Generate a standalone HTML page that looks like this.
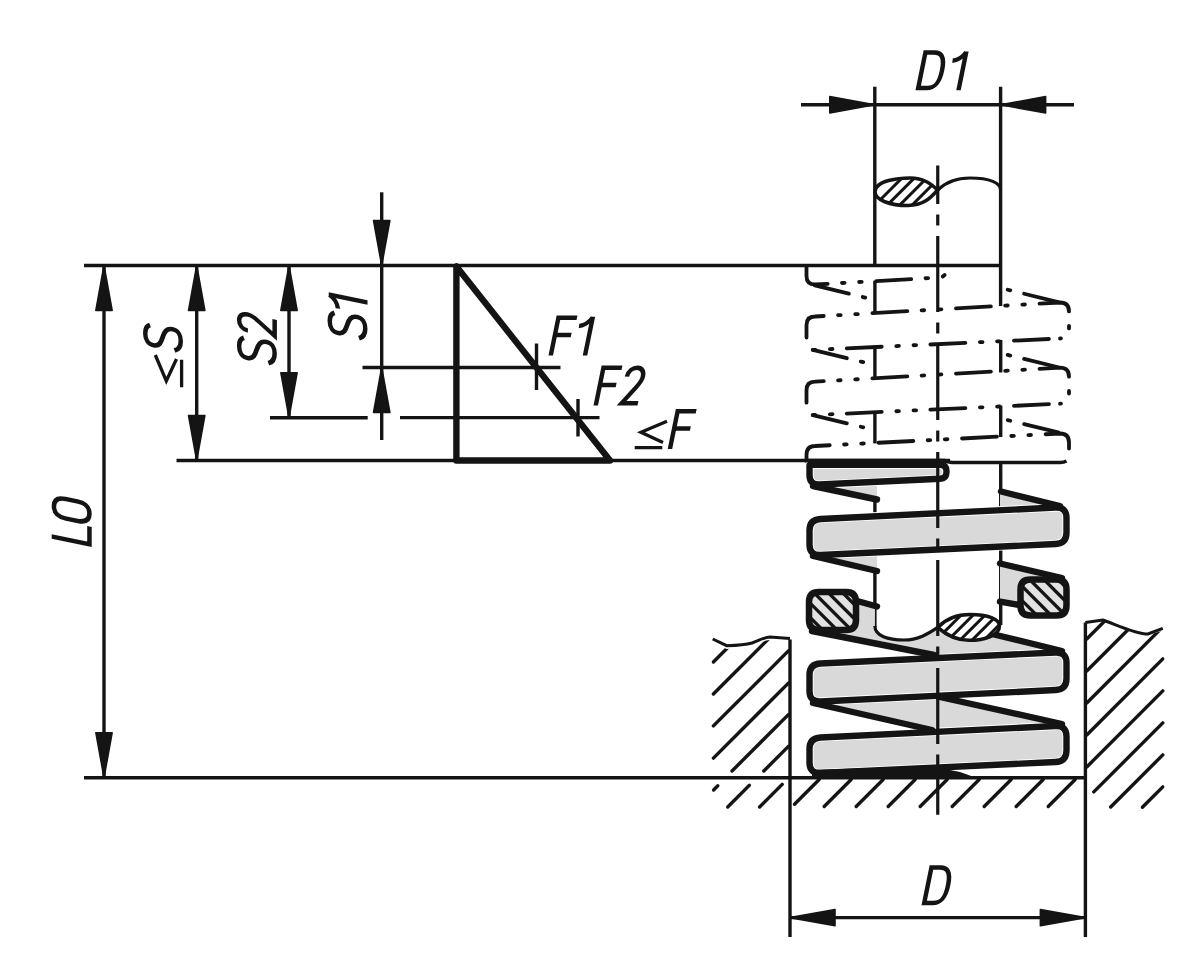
<!DOCTYPE html>
<html><head><meta charset="utf-8"><style>
html,body{margin:0;padding:0;background:#fff;}
svg{display:block;}
</style></head><body>
<svg width="1200" height="973" viewBox="0 0 1200 973">
<rect width="1200" height="973" fill="#ffffff"/>
<g stroke="#141414" fill="none" stroke-linecap="butt">
<line x1="84" y1="265.5" x2="1001.5" y2="265.5" stroke-width="3.4"/>
<line x1="176.5" y1="460.5" x2="950" y2="460.5" stroke-width="3.4"/>
<line x1="84" y1="777.7" x2="1085.5" y2="777.7" stroke-width="3.4"/>
<line x1="104" y1="266" x2="104" y2="777" stroke-width="3.4"/>
<path d="M104,265.5 L112.15,310.50 L95.85,310.50 Z" fill="#141414" stroke-width="1.6" stroke-linejoin="round"/>
<path d="M104,777.7 L95.85,732.70 L112.15,732.70 Z" fill="#141414" stroke-width="1.6" stroke-linejoin="round"/>
<line x1="196.7" y1="266" x2="196.7" y2="460" stroke-width="3.4"/>
<path d="M196.7,265.5 L204.85,310.50 L188.55,310.50 Z" fill="#141414" stroke-width="1.6" stroke-linejoin="round"/>
<path d="M196.7,460.5 L188.55,415.50 L204.85,415.50 Z" fill="#141414" stroke-width="1.6" stroke-linejoin="round"/>
<line x1="289" y1="266" x2="289" y2="417.7" stroke-width="3.4"/>
<path d="M289,265.5 L297.15,310.50 L280.85,310.50 Z" fill="#141414" stroke-width="1.6" stroke-linejoin="round"/>
<path d="M289,417.7 L280.85,372.70 L297.15,372.70 Z" fill="#141414" stroke-width="1.6" stroke-linejoin="round"/>
<line x1="270" y1="417.7" x2="367.7" y2="417.7" stroke-width="3.4"/>
<line x1="381.7" y1="192.3" x2="381.7" y2="440" stroke-width="3.4"/>
<path d="M381.7,265.5 L373.55,220.50 L389.85,220.50 Z" fill="#141414" stroke-width="1.6" stroke-linejoin="round"/>
<path d="M381.7,367.5 L389.85,412.50 L373.55,412.50 Z" fill="#141414" stroke-width="1.6" stroke-linejoin="round"/>
<line x1="362.5" y1="367.5" x2="560.5" y2="367.5" stroke-width="3.4"/>
<line x1="400" y1="417.6" x2="599.5" y2="417.6" stroke-width="3.4"/>
<line x1="536.5" y1="343.5" x2="536.5" y2="390" stroke-width="3.4"/>
<line x1="578" y1="399" x2="578" y2="436.5" stroke-width="3.4"/>
<path d="M456.4,266.5 L456.4,460.5 L610,460.5 Z" stroke-width="6.4" fill="none" stroke-linejoin="round"/>
<line x1="874.8" y1="86.7" x2="874.8" y2="265.5" stroke-width="3.4"/>
<line x1="1000.6" y1="86.7" x2="1000.6" y2="306" stroke-width="3.4"/>
<line x1="801" y1="104.8" x2="1074" y2="104.8" stroke-width="3.4"/>
<path d="M874.8,104.8 L829.80,112.95 L829.80,96.65 Z" fill="#141414" stroke-width="1.6" stroke-linejoin="round"/>
<path d="M1000.6,104.8 L1045.60,96.65 L1045.60,112.95 Z" fill="#141414" stroke-width="1.6" stroke-linejoin="round"/>
<line x1="790" y1="639.5" x2="790" y2="937" stroke-width="3.4"/>
<line x1="1085.4" y1="622.6" x2="1085.4" y2="937" stroke-width="3.4"/>
<line x1="790" y1="917.6" x2="1085.4" y2="917.6" stroke-width="3.4"/>
<path d="M790,917.6 L835.00,909.45 L835.00,925.75 Z" fill="#141414" stroke-width="1.6" stroke-linejoin="round"/>
<path d="M1085.4,917.6 L1040.40,925.75 L1040.40,909.45 Z" fill="#141414" stroke-width="1.6" stroke-linejoin="round"/>
<g transform="translate(915.5,90.3)" stroke-width="4.5" stroke-linecap="butt" stroke-linejoin="miter"><g transform="translate(0,0) skewX(-11.5)"><path d="M2.25,-2.25 V-37.75 H11 C19.5,-37.75 22.5,-32 22.5,-20 C22.5,-8 19.5,-2.25 11,-2.25 Z" fill="none"/></g><g transform="translate(29.5,0) skewX(-11.5)"><path d="M1.5,-29.6 C6,-30 10.5,-32.5 13.5,-38.25 M13.5,-38.75 V0" fill="none"/></g></g>
<g transform="translate(548.5,355.5)" stroke-width="4.5" stroke-linecap="butt" stroke-linejoin="miter"><g transform="translate(0,0) skewX(-11.5)"><path d="M20.8,-37.75 H2.25 V0 M2.25,-20.5 H18.5" fill="none"/></g><g transform="translate(23,0) skewX(-11.5)"><path d="M1.5,-29.6 C6,-30 10.5,-32.5 13.5,-38.25 M13.5,-38.75 V0" fill="none"/></g></g>
<g transform="translate(593.5,405.6)" stroke-width="4.5" stroke-linecap="butt" stroke-linejoin="miter"><g transform="translate(0,0) skewX(-11.5)"><path d="M20.8,-37.75 H2.25 V0 M2.25,-20.5 H18.5" fill="none"/></g><g transform="translate(23,0) skewX(-11.5)"><path d="M4.5,-29 C5,-35 8.5,-37.75 13,-37.75 C17.5,-37.75 20.5,-34.5 20.5,-29 C20.5,-25 18.5,-22 16,-18.5 L4.5,-2.25 H21" fill="none"/></g></g>
<g transform="translate(635,449)" stroke-width="4.5" stroke-linecap="butt" stroke-linejoin="miter"><path d="M32,-27.7 L6,-16.7 L28,-6.5 M-0.3,-1.4 H27.3" stroke-width="3.3" fill="none" stroke-linejoin="miter"/><g transform="translate(32.7,0) skewX(-11.5)"><path d="M20.8,-37.75 H2.25 V0 M2.25,-20.5 H18.5" fill="none"/></g></g>
<g transform="translate(921.5,905.3)" stroke-width="4.5" stroke-linecap="butt" stroke-linejoin="miter"><g transform="translate(0,0) skewX(-11.5)"><path d="M2.25,-2.25 V-37.75 H11 C19.5,-37.75 22.5,-32 22.5,-20 C22.5,-8 19.5,-2.25 11,-2.25 Z" fill="none"/></g></g>
<g transform="translate(276.9,367) rotate(-90)" stroke-width="4.5" stroke-linecap="butt" stroke-linejoin="miter"><g transform="translate(0,0) skewX(-11.5)"><path d="M22.5,-33 C21,-36.5 17.5,-37.75 13,-37.75 C7,-37.75 3,-35 3,-29.5 C3,-23.5 8,-21.8 13,-20.3 C18.5,-18.6 23,-16.5 23,-10.3 C23,-5 19,-2.25 13,-2.25 C7.5,-2.25 3.5,-4.8 2,-8.5" fill="none"/></g><g transform="translate(26,0) skewX(-11.5)"><path d="M4.5,-29 C5,-35 8.5,-37.75 13,-37.75 C17.5,-37.75 20.5,-34.5 20.5,-29 C20.5,-25 18.5,-22 16,-18.5 L4.5,-2.25 H21" fill="none"/></g></g>
<g transform="translate(367.5,342) rotate(-90)" stroke-width="4.5" stroke-linecap="butt" stroke-linejoin="miter"><g transform="translate(0,0) skewX(-11.5)"><path d="M22.5,-33 C21,-36.5 17.5,-37.75 13,-37.75 C7,-37.75 3,-35 3,-29.5 C3,-23.5 8,-21.8 13,-20.3 C18.5,-18.6 23,-16.5 23,-10.3 C23,-5 19,-2.25 13,-2.25 C7.5,-2.25 3.5,-4.8 2,-8.5" fill="none"/></g><g transform="translate(26,0) skewX(-11.5)"><path d="M1.5,-29.6 C6,-30 10.5,-32.5 13.5,-38.25 M13.5,-38.75 V0" fill="none"/></g></g>
<g transform="translate(183,387) rotate(-90)" stroke-width="4.5" stroke-linecap="butt" stroke-linejoin="miter"><path d="M32,-27.7 L6,-16.7 L28,-6.5 M-0.3,-1.4 H27.3" stroke-width="3.3" fill="none" stroke-linejoin="miter"/><g transform="translate(32.7,0) skewX(-11.5)"><path d="M22.5,-33 C21,-36.5 17.5,-37.75 13,-37.75 C7,-37.75 3,-35 3,-29.5 C3,-23.5 8,-21.8 13,-20.3 C18.5,-18.6 23,-16.5 23,-10.3 C23,-5 19,-2.25 13,-2.25 C7.5,-2.25 3.5,-4.8 2,-8.5" fill="none"/></g></g>
<g transform="translate(91.7,547) rotate(-90)" stroke-width="4.5" stroke-linecap="butt" stroke-linejoin="miter"><g transform="translate(0,0) skewX(-11.5)"><path d="M2.25,-40 V-2.25 H20" fill="none"/></g><g transform="translate(21,0) skewX(-11.5)"><path d="M12,-37.75 C5.5,-37.75 2.25,-34 2.25,-26 V-14 C2.25,-6 5.5,-2.25 12,-2.25 C18.5,-2.25 21.75,-6 21.75,-14 V-26 C21.75,-34 18.5,-37.75 12,-37.75 Z" fill="none"/></g></g>
<path d="M806.5,265.5 V276 Q806.5,284.5 815,284.5 L939,277.5 Q945,277 946,272" stroke-width="3.8" stroke-dasharray="35 14.3 2.6 14.6 2.6 14.6" stroke-dashoffset="-1.9" fill="none" stroke-linejoin="round" stroke-linecap="round"/>
<path d="M813,285 L877,300.5" stroke-width="3.8" stroke-dasharray="35 14.3 2.6 14.6 2.6 14.6" stroke-dashoffset="-1.9" fill="none" stroke-linejoin="round" stroke-linecap="round"/>
<path d="M806.5,339.4 V325.0 Q806.5,316.5 815,316.5 L1060,302.5 Q1069,302.5 1069,311.5 V328.5 Q1069,338.5 1060,338.5" stroke-width="3.8" stroke-dasharray="35 14.3 2.6 14.6 2.6 14.6" stroke-dashoffset="-1.9" fill="none" stroke-linejoin="round" stroke-linecap="round"/>
<path d="M1060,338.5 L811,350.0" stroke-width="3.8" stroke-dasharray="35 14.3 2.6 14.6 2.6 14.6" stroke-dashoffset="323.74" fill="none" stroke-linejoin="round" stroke-linecap="round"/>
<path d="M811,349.5 L877,365.5" stroke-width="3.8" stroke-dasharray="35 14.3 2.6 14.6 2.6 14.6" stroke-dashoffset="-1.9" fill="none" stroke-linejoin="round" stroke-linecap="round"/>
<path d="M1060,302.5 L1000.7,288.0" stroke-width="3.8" stroke-dasharray="35 14.3 2.6 14.6 2.6 14.6" stroke-dashoffset="-1.9" fill="none" stroke-linejoin="round" stroke-linecap="round"/>
<line x1="874.9" y1="280.6" x2="874.9" y2="313.0" stroke-width="3.4"/>
<path d="M806.5,404.59999999999997 V390.2 Q806.5,381.7 815,381.7 L1060,367.7 Q1069,367.7 1069,376.7 V393.7 Q1069,403.7 1060,403.7" stroke-width="3.8" stroke-dasharray="35 14.3 2.6 14.6 2.6 14.6" stroke-dashoffset="-1.9" fill="none" stroke-linejoin="round" stroke-linecap="round"/>
<path d="M1060,403.7 L811,415.2" stroke-width="3.8" stroke-dasharray="35 14.3 2.6 14.6 2.6 14.6" stroke-dashoffset="323.74" fill="none" stroke-linejoin="round" stroke-linecap="round"/>
<path d="M811,414.7 L877,430.7" stroke-width="3.8" stroke-dasharray="35 14.3 2.6 14.6 2.6 14.6" stroke-dashoffset="-1.9" fill="none" stroke-linejoin="round" stroke-linecap="round"/>
<path d="M1060,367.7 L1000.7,353.2" stroke-width="3.8" stroke-dasharray="35 14.3 2.6 14.6 2.6 14.6" stroke-dashoffset="-1.9" fill="none" stroke-linejoin="round" stroke-linecap="round"/>
<line x1="874.9" y1="345.8" x2="874.9" y2="378.2" stroke-width="3.4"/>
<path d="M1060,432.9 L1000.7,418.4" stroke-width="3.8" stroke-dasharray="35 14.3 2.6 14.6 2.6 14.6" stroke-dashoffset="-1.9" fill="none" stroke-linejoin="round" stroke-linecap="round"/>
<line x1="874.9" y1="411.0" x2="874.9" y2="443.4" stroke-width="3.4"/>
<path d="M806.5,463 V455 Q806.5,446 815,446 L1060,433.5 Q1069,433.5 1069,442.5 V452" stroke-width="3.8" stroke-dasharray="35 14.3 2.6 14.6 2.6 14.6" stroke-dashoffset="-1.9" fill="none" stroke-linejoin="round" stroke-linecap="round"/>
<line x1="1000.7" y1="340" x2="1000.7" y2="372.5" stroke-width="3.4"/>
<line x1="1000.7" y1="405.6" x2="1000.7" y2="437" stroke-width="3.4"/>
<line x1="874.9" y1="480" x2="874.9" y2="627" stroke-width="3.4"/>
<line x1="1000.7" y1="461" x2="1000.7" y2="625" stroke-width="3.4"/>
<path d="M812,486 L877,500 L877,482 Z" fill="#d9d9d9" stroke="none"/>
<path d="M1000,491.5 L1062,506 L1000,509 Z" fill="#d9d9d9" stroke="none"/>
<path d="M812,556 L877,571 L877,553 Z" fill="#d9d9d9" stroke="none"/>
<path d="M1000,563.5 L1062,578 L1020,580 L1020,605 L1000,602 Z" fill="#d9d9d9" stroke="none"/>
<path d="M812,631 L858,602 L875,606 L874.9,627 C874.9,636 888,640 904,640 C918,640 928,634 937.7,627.4 L992,634 L1062,651 L934,657 Z" fill="#d9d9d9" stroke="none"/>
<path d="M812,703 L937.5,697 L1062,724 L932,730 Z" fill="#d9d9d9" stroke="none"/>
<path d="M874.9,626 C874.9,636 888,640 904,640 C918,640 928,634 937.7,627.4" stroke-width="3.2"/>
<path d="M810.50,464.80 L940.00,464.80 Q946.50,464.80 946.50,471.30 L946.50,472.00 Q946.50,478.50 940.01,478.81 L819.49,484.53 Q809.50,485.00 809.50,475.00 L809.50,465.80 Q809.50,464.80 810.50,464.80 Z" fill="#d9d9d9" stroke="#fff" stroke-width="8.200000000000001" stroke-linejoin="round"/>
<path d="M810.50,464.80 L940.00,464.80 Q946.50,464.80 946.50,471.30 L946.50,472.00 Q946.50,478.50 940.01,478.81 L819.49,484.53 Q809.50,485.00 809.50,475.00 L809.50,465.80 Q809.50,464.80 810.50,464.80 Z" fill="none" stroke-width="6.4" stroke-linejoin="round"/>
<path d="M820.49,518.97 L1055.51,507.53 Q1066.50,507.00 1066.50,518.00 L1066.50,532.50 Q1066.50,543.50 1055.51,544.01 L820.49,554.99 Q809.50,555.50 809.50,544.50 L809.50,530.50 Q809.50,519.50 820.49,518.97 Z" fill="#d9d9d9" stroke="#fff" stroke-width="8.200000000000001" stroke-linejoin="round"/>
<path d="M820.49,518.97 L1055.51,507.53 Q1066.50,507.00 1066.50,518.00 L1066.50,532.50 Q1066.50,543.50 1055.51,544.01 L820.49,554.99 Q809.50,555.50 809.50,544.50 L809.50,530.50 Q809.50,519.50 820.49,518.97 Z" fill="none" stroke-width="6.4" stroke-linejoin="round"/>
<path d="M820.49,663.49 L1055.51,652.51 Q1066.50,652.00 1066.50,663.00 L1066.50,678.50 Q1066.50,689.50 1055.51,690.03 L820.49,701.47 Q809.50,702.00 809.50,691.00 L809.50,675.00 Q809.50,664.00 820.49,663.49 Z" fill="#d9d9d9" stroke="#fff" stroke-width="8.200000000000001" stroke-linejoin="round"/>
<path d="M820.49,663.49 L1055.51,652.51 Q1066.50,652.00 1066.50,663.00 L1066.50,678.50 Q1066.50,689.50 1055.51,690.03 L820.49,701.47 Q809.50,702.00 809.50,691.00 L809.50,675.00 Q809.50,664.00 820.49,663.49 Z" fill="none" stroke-width="6.4" stroke-linejoin="round"/>
<path d="M820.49,737.47 L1055.51,726.03 Q1066.50,725.50 1066.50,736.50 L1066.50,750.50 Q1066.50,761.50 1055.51,762.01 L820.49,772.99 Q809.50,773.50 809.50,762.50 L809.50,749.00 Q809.50,738.00 820.49,737.47 Z" fill="#d9d9d9" stroke="#fff" stroke-width="8.200000000000001" stroke-linejoin="round"/>
<path d="M820.49,737.47 L1055.51,726.03 Q1066.50,725.50 1066.50,736.50 L1066.50,750.50 Q1066.50,761.50 1055.51,762.01 L820.49,772.99 Q809.50,773.50 809.50,762.50 L809.50,749.00 Q809.50,738.00 820.49,737.47 Z" fill="none" stroke-width="6.4" stroke-linejoin="round"/>
<line x1="813" y1="486" x2="877" y2="499.5" stroke-width="6.4" stroke-linecap="round"/>
<line x1="1001" y1="491.5" x2="1060" y2="506" stroke-width="6.4" stroke-linecap="round"/>
<line x1="813" y1="556" x2="877" y2="571" stroke-width="6.4" stroke-linecap="round"/>
<line x1="1000" y1="563.5" x2="1062" y2="578" stroke-width="6.4" stroke-linecap="round"/>
<line x1="859" y1="601.5" x2="877" y2="606.5" stroke-width="6.4" stroke-linecap="round"/>
<line x1="1000" y1="601.6" x2="1020" y2="605" stroke-width="6.4" stroke-linecap="round"/>
<line x1="812" y1="631" x2="934" y2="655" stroke-width="6.4" stroke-linecap="round"/>
<line x1="992" y1="634" x2="1062" y2="651" stroke-width="6.4" stroke-linecap="round"/>
<line x1="813" y1="703" x2="932" y2="730" stroke-width="6.4" stroke-linecap="round"/>
<line x1="937.5" y1="696.5" x2="1062" y2="724" stroke-width="6.4" stroke-linecap="round"/>
<line x1="806" y1="460.5" x2="945" y2="460.5" stroke-width="3.4"/>
<path d="M940,460.5 L952,462.5 H1060 Q1064,462.5 1066.5,461" stroke-width="3.4"/>
<path d="M812,770 L930,766 L960,772 L974,777 L974,778.5 L812,778.5 Z" fill="#141414" stroke="none"/>
<defs><clipPath id="csl"><path d="M819.00,592.00 L846.00,592.00 Q856.00,592.00 856.00,602.00 L856.00,620.00 Q856.00,630.00 846.00,630.00 L819.00,630.00 Q809.00,630.00 809.00,620.00 L809.00,602.00 Q809.00,592.00 819.00,592.00 Z"/></clipPath><clipPath id="csr"><path d="M1030.50,579.50 L1056.50,579.50 Q1066.50,579.50 1066.50,589.50 L1066.50,605.50 Q1066.50,615.50 1056.50,615.50 L1030.50,615.50 Q1020.50,615.50 1020.50,605.50 L1020.50,589.50 Q1020.50,579.50 1030.50,579.50 Z"/></clipPath><clipPath id="lens1"><path d="M875,192 C875,180 900,178 910,178 C925,178 932,185 937.7,190 C932,196 925,205.5 908,205.5 C890,205.5 875,200 875,192 Z"/></clipPath><clipPath id="lens2"><path d="M937.7,627.4 C945,620 955,614.6 970,614.6 C988,614.6 999.5,619 999.5,626 C999.5,635 985,640.3 969,640.3 C955,640.3 945,634 937.7,627.4 Z"/></clipPath></defs>
<path d="M819.00,592.00 L846.00,592.00 Q856.00,592.00 856.00,602.00 L856.00,620.00 Q856.00,630.00 846.00,630.00 L819.00,630.00 Q809.00,630.00 809.00,620.00 L809.00,602.00 Q809.00,592.00 819.00,592.00 Z" fill="#e2e2e2" stroke="none"/>
<g clip-path="url(#csl)" stroke-width="3.3"><line x1="757.4000000000001" y1="579" x2="821.4000000000001" y2="643"/><line x1="771.7" y1="579" x2="835.7" y2="643"/><line x1="786.0" y1="579" x2="850.0" y2="643"/><line x1="800.3000000000001" y1="579" x2="864.3000000000001" y2="643"/><line x1="814.6000000000001" y1="579" x2="878.6000000000001" y2="643"/><line x1="828.9000000000001" y1="579" x2="892.9000000000001" y2="643"/><line x1="843.2" y1="579" x2="907.2" y2="643"/></g>
<path d="M1030.00,579.00 L1057.00,579.00 Q1067.00,579.00 1067.00,589.00 L1067.00,606.00 Q1067.00,616.00 1057.00,616.00 L1030.00,616.00 Q1020.00,616.00 1020.00,606.00 L1020.00,589.00 Q1020.00,579.00 1030.00,579.00 Z" fill="#e2e2e2" stroke="none"/>
<g clip-path="url(#csr)" stroke-width="3.3"><line x1="973.2000000000003" y1="566" x2="1036.2000000000003" y2="629"/><line x1="987.5000000000002" y1="566" x2="1050.5000000000002" y2="629"/><line x1="1001.8000000000002" y1="566" x2="1064.8000000000002" y2="629"/><line x1="1016.1000000000004" y1="566" x2="1079.1000000000004" y2="629"/><line x1="1030.4000000000003" y1="566" x2="1093.4000000000003" y2="629"/><line x1="1044.7000000000003" y1="566" x2="1107.7000000000003" y2="629"/><line x1="1059.0000000000002" y1="566" x2="1122.0000000000002" y2="629"/></g>
<path d="M819.00,592.00 L846.00,592.00 Q856.00,592.00 856.00,602.00 L856.00,620.00 Q856.00,630.00 846.00,630.00 L819.00,630.00 Q809.00,630.00 809.00,620.00 L809.00,602.00 Q809.00,592.00 819.00,592.00 Z" stroke-width="6.5"/>
<path d="M1030.50,579.50 L1056.50,579.50 Q1066.50,579.50 1066.50,589.50 L1066.50,605.50 Q1066.50,615.50 1056.50,615.50 L1030.50,615.50 Q1020.50,615.50 1020.50,605.50 L1020.50,589.50 Q1020.50,579.50 1030.50,579.50 Z" stroke-width="6.5"/>
<path d="M937.7,627.4 C945,620 955,614.6 970,614.6 C988,614.6 999.5,619 999.5,626 C999.5,635 985,640.3 969,640.3 C955,640.3 945,634 937.7,627.4 Z" fill="#fff" stroke="none"/>
<g clip-path="url(#lens2)" stroke-width="3"><line x1="948.2" y1="604" x2="901.2" y2="651"/><line x1="960.2" y1="604" x2="913.2" y2="651"/><line x1="972.2" y1="604" x2="925.2" y2="651"/><line x1="984.2" y1="604" x2="937.2" y2="651"/><line x1="996.2" y1="604" x2="949.2" y2="651"/><line x1="1008.2" y1="604" x2="961.2" y2="651"/><line x1="1020.2" y1="604" x2="973.2" y2="651"/><line x1="1032.2" y1="604" x2="985.2" y2="651"/></g>
<path d="M937.7,627.4 C945,620 955,614.6 970,614.6 C988,614.6 999.5,619 999.5,626 C999.5,635 985,640.3 969,640.3 C955,640.3 945,634 937.7,627.4 Z" stroke-width="3.5"/>
<g clip-path="url(#lens1)" stroke-width="3"><line x1="912" y1="168" x2="864" y2="216"/><line x1="924.4000000000001" y1="168" x2="876.4000000000001" y2="216"/><line x1="936.8000000000002" y1="168" x2="888.8000000000002" y2="216"/><line x1="949.2000000000003" y1="168" x2="901.2000000000003" y2="216"/><line x1="961.6000000000004" y1="168" x2="913.6000000000004" y2="216"/><line x1="974.0000000000005" y1="168" x2="926.0000000000005" y2="216"/></g>
<path d="M875,192 C875,180 900,178 910,178 C925,178 932,185 937.7,190 C932,196 925,205.5 908,205.5 C890,205.5 875,200 875,192 Z" stroke-width="3.5"/>
<path d="M937.7,190 C945,183 955,178 970,178 C990,178 1000.6,183 1000.6,190" stroke-width="3.2"/>
<line x1="937.75" y1="165.4" x2="937.75" y2="814.7" stroke-width="3.2" stroke-dasharray="76 10.5 11 10.5" stroke-dashoffset="37.4"/>
<defs><clipPath id="gl"><path d="M712.7,642 L726.7,649 C735,648.5 745,648 752,646 C760,643 765,640 770,640 L800,642 L800,820 L700,820 Z"/></clipPath><clipPath id="gr"><path d="M1080,623.5 L1102.8,621 C1115,625 1135,635 1148,635 L1175,627 L1175,820 L1080,820 Z"/></clipPath></defs>
<g clip-path="url(#gl)" stroke-width="3.4" stroke-linecap="round"><line x1="713.4" y1="662.0" x2="760.0" y2="615.4"/><line x1="713.4" y1="694.0" x2="788.4" y2="619.0"/><line x1="713.4" y1="725.9" x2="788.4" y2="650.9"/><line x1="713.4" y1="758.1" x2="788.4" y2="683.1"/><line x1="732.0" y1="771.0" x2="788.4" y2="714.6"/><line x1="763.8" y1="771.0" x2="788.4" y2="746.4"/></g>
<g stroke-width="3.4" stroke-linecap="round"><line x1="713.6" y1="790.0" x2="717.8" y2="785.8"/><line x1="727.7" y1="807.0" x2="749.3" y2="785.4"/><line x1="759.6" y1="807.0" x2="782.2" y2="784.4"/><line x1="794.5" y1="804.2" x2="819.2" y2="779.5"/><line x1="824.2" y1="806.5" x2="851.2" y2="779.5"/><line x1="856.2" y1="806.5" x2="883.2" y2="779.5"/><line x1="888.2" y1="806.5" x2="915.2" y2="779.5"/><line x1="920.2" y1="806.5" x2="947.2" y2="779.5"/><line x1="952.2" y1="806.5" x2="979.2" y2="779.5"/><line x1="984.2" y1="806.5" x2="1011.2" y2="779.5"/><line x1="1016.2" y1="806.5" x2="1043.2" y2="779.5"/><line x1="1048.2" y1="806.5" x2="1075.2" y2="779.5"/></g>
<g clip-path="url(#gr)" stroke-width="3.4" stroke-linecap="round"><line x1="1087.0" y1="638.7" x2="1162.8" y2="562.9"/><line x1="1087.0" y1="670.7" x2="1162.8" y2="594.9"/><line x1="1087.0" y1="702.7" x2="1162.8" y2="626.9"/><line x1="1087.0" y1="734.7" x2="1162.8" y2="658.9"/><line x1="1087.0" y1="766.7" x2="1162.8" y2="690.9"/><line x1="1093.8" y1="791.9" x2="1162.8" y2="722.9"/><line x1="1110.7" y1="807.0" x2="1162.8" y2="754.9"/><line x1="1142.4" y1="807.3" x2="1162.8" y2="786.9"/></g>
<path d="M712.7,639 L726.7,645.7 C735,645.5 745,645 752,643 C760,640 765,637 770,637 L790,638.5" stroke-width="3"/>
<path d="M1085.4,622.6 L1102.8,620 C1115,624 1135,634 1148,634 L1162.8,628.3" stroke-width="3"/>
</g>
</svg>
</body></html>
